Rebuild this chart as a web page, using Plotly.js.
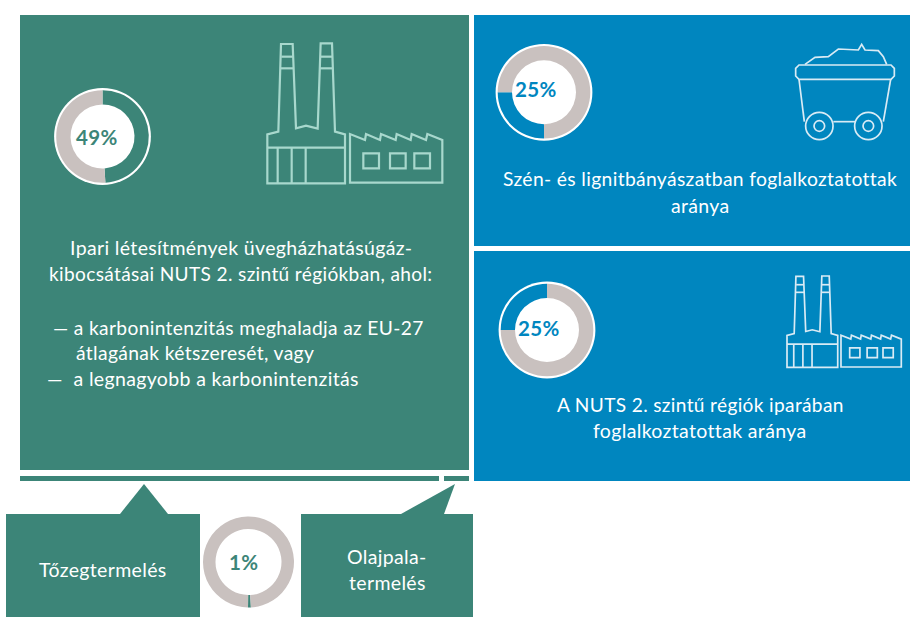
<!DOCTYPE html>
<html><head><meta charset="utf-8">
<script src="https://cdn.plot.ly/plotly-3.0.1.min.js"></script>
<style>html,body{margin:0;padding:0;background:#fff}#c{width:910px;height:617px}
.annotation-text{letter-spacing:.35px}</style>
</head><body><div id="c"></div>
<script>
const W=910,H=617;
const GREEN='#3c8578',BLUE='#0086bf',GREY='#c9c1bf',ICON_G='#a8d8cd',ICON_B='#d9ebf5';

// Donut values
const sliceLabels=['Részarány','Többi'];
const industryEmissions=[49,51];
const coalEmployment=[25,75];
const industryEmployment=[25,75];
const peatOilShale=[1,99];
const donutLabels=['49%','25%','25%','1%'];

// Text
const mainText=['Ipari létesítmények üvegházhatásúgáz-','kibocsátásai NUTS 2. szintű régiókban, ahol:'];
const bulletText=['— a karbonintenzitás meghaladja az EU-27','átlagának kétszeresét, vagy','—  a legnagyobb a karbonintenzitás'];
const coalText=['Szén- és lignitbányászatban foglalkoztatottak','aránya'];
const industryText=['A NUTS 2. szintű régiók iparában','foglalkoztatottak aránya'];
const peatText='Tőzegtermelés';
const shaleText=['Olajpala-','termelés'];

const px=x=>x/W, py=y=>1-y/H;
const shapes=[];
function rect(x0,y0,x1,y1,c){shapes.push({type:'rect',xref:'paper',yref:'paper',layer:'below',x0:px(x0),x1:px(x1),y0:py(y0),y1:py(y1),fillcolor:c,line:{width:0}});}
function path(pts,o){
  let d=pts.map((p,i)=>(i?'L':'M')+px(p[0])+','+py(p[1])).join(' ')+(o.close?' Z':'');
  shapes.push({type:'path',xref:'paper',yref:'paper',layer:o.layer||'below',path:d,fillcolor:o.fill||'rgba(0,0,0,0)',line:{color:o.color||'rgba(0,0,0,0)',width:o.width||0}});
}
function circle(cx,cy,r,o){shapes.push({type:'circle',xref:'paper',yref:'paper',layer:'below',x0:px(cx-r),x1:px(cx+r),y0:py(cy-r),y1:py(cy+r),fillcolor:o.fill||'rgba(0,0,0,0)',line:{color:o.color||'rgba(0,0,0,0)',width:o.width||0}});}

// Panels
rect(20,15,469,470,GREEN);
rect(20,476,439,481,GREEN);
rect(444,476,469,481,GREEN);
rect(474,15,910,246,BLUE);
rect(474,251,910,481,BLUE);
rect(6,514,200,617,GREEN);
rect(301,514,473,617,GREEN);
path([[120,514],[144,484],[168,514]],{fill:GREEN,close:true});
path([[401,514],[455,484],[444,514]],{fill:GREEN,close:true});

// Factory icon, local coordinates
function factory(ox,oy,s,color,width){
  const T=p=>[ox+p[0]*s,oy+p[1]*s], L=(a,close)=>path(a.map(T),{color,width,close});
  L([[742,490],[742,343],[775,335],[783,72],[818,72],[828,325],[858,317],[893,326],[902,70],[936,70],[945,335],[975,343],[975,490]],true);
  L([[784,110],[820,110]]);L([[783,145],[822,145]]);L([[901,110],[937,110]]);L([[900,145],[938,145]]);
  L([[742,383],[975,383]]);L([[773,383],[773,490]]);L([[815,383],[815,490]]);L([[857,383],[857,490]]);
  L([[990,488],[990,342],[1035,360],[1038,342],[1080,360],[1083,342],[1127,360],[1130,342],[1172,360],[1175,342],[1218,360],[1222,342],[1267,360],[1267,488]],true);
  [[1030,1077],[1110,1157],[1183,1230]].forEach(w=>L([[w[0],400],[w[1],400],[w[1],445],[w[0],445]],true));
}
factory(20,20,1/3,ICON_G,2.2);
factory(787-742*0.2177,276-70*0.2177,0.2177,ICON_B,1.7);

// Coal cart icon
(function(){
  const T=p=>[470+p[0]/3,20+p[1]/3], L=(a,close)=>path(a.map(T),{color:ICON_B,width:1.7,close});
  L([[987,135],[1263,135],[1273,145],[1273,168],[1263,178],[987,178],[977,168],[977,145]],true);
  L([[987,178],[1003,305]]);L([[1262,178],[1240,305]]);L([[1090,305],[1155,305]]);
  L([[1005,133],[1035,112],[1075,110],[1105,87],[1165,90],[1175,73],[1185,90],[1225,92],[1240,110],[1250,133]]);
  [1048,1195].forEach(x=>{const c=T([x,318]);circle(c[0],c[1],13.7,{color:ICON_B,width:1.7,fill:BLUE});circle(c[0],c[1],5.3,{color:ICON_B,width:1.7});});
})();

// Donuts: white rings under three of them
[[102.5,136.5],[544,92.3],[547,330]].forEach(c=>circle(c[0],c[1],48.4,{fill:'#ffffff'}));

function donut(vals,cx,cy,r,rIn,rot,color){
  return {type:'pie',values:vals,labels:sliceLabels,sort:false,direction:'clockwise',rotation:rot,hole:rIn/r,
    domain:{x:[px(cx-r),px(cx+r)],y:[py(cy+r),py(cy-r)]},textinfo:'none',hoverinfo:'skip',showlegend:false,
    marker:{colors:[color,GREY],line:{width:0}}};
}
const data=[
  donut(industryEmissions,102.5,136.5,46.3,32,0,GREEN),
  donut(coalEmployment,544,92.3,46.3,32,180,BLUE),
  donut(industryEmployment,547,330,46.3,32,270,BLUE),
  donut(peatOilShale,248.5,562,45.5,33,177,GREEN)
];

// Text annotations
const FONT='Lato, sans-serif', WHITE='#ffffff';
const ann=[];
function t(s,x,y,size,color,anchor,bold){ann.push({text:bold?'<b>'+s+'</b>':s,xref:'paper',yref:'paper',x:px(x),y:py(y),xanchor:anchor||'center',yanchor:'middle',showarrow:false,font:{family:FONT,size,color}});}
const SZ=19.5;
t(mainText[0],241,247,SZ,WHITE);
t(mainText[1],240,273,19.1,WHITE);
t(bulletText[0],51,327,19.2,WHITE,'left');
t(bulletText[1],74,352,19.3,WHITE,'left');
t(bulletText[2],45,378,SZ,WHITE,'left');
t(coalText[0],700,179,19.3,WHITE);
t(coalText[1],700,205,SZ,WHITE);
t(industryText[0],700,404,19.1,WHITE);
t(industryText[1],699,430,SZ,WHITE);
t(peatText,103,569,SZ,WHITE);
t(shaleText[0],387,556,SZ,WHITE);
t(shaleText[1],387,582,SZ,WHITE);
t(donutLabels[0],97,137.5,20.5,GREEN,'center',true);
t(donutLabels[1],536,89.5,20.5,BLUE,'center',true);
t(donutLabels[2],539,328,20.5,BLUE,'center',true);
t(donutLabels[3],243,561.5,20.5,GREEN,'center',true);

Plotly.newPlot('c',data,{width:W,height:H,margin:{l:0,r:0,t:0,b:0},paper_bgcolor:'#fff',plot_bgcolor:'#fff',showlegend:false,shapes,annotations:ann},{displayModeBar:false,staticPlot:true});
</script></body></html>
